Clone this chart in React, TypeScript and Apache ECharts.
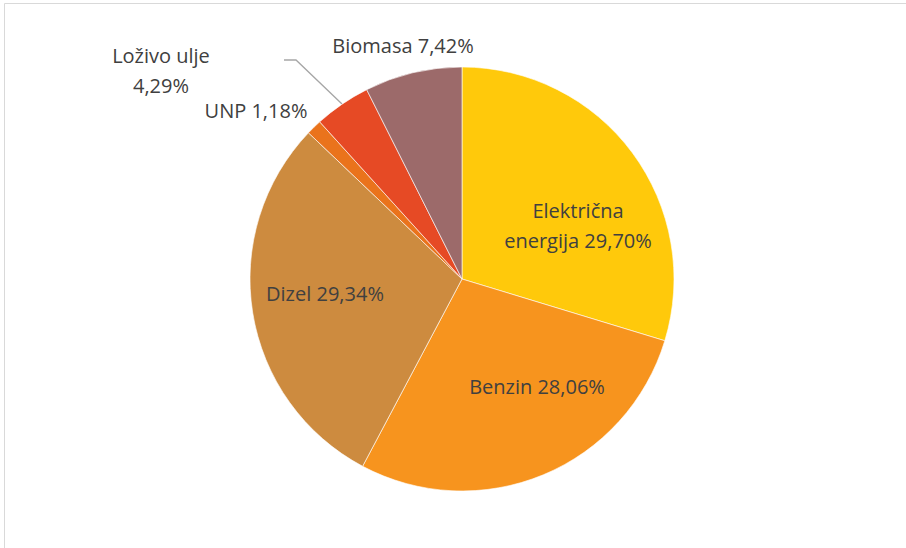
import React, { useEffect, useRef } from "react";
import * as echarts from "echarts";

const categories = ["Električna energija", "Benzin", "Dizel", "UNP", "Loživo ulje", "Biomasa"];
const values = [29.7, 28.06, 29.34, 1.18, 4.29, 7.42];
const valueLabels = ["29,70%", "28,06%", "29,34%", "1,18%", "4,29%", "7,42%"];
const colors = ["#FFC90B", "#F7941E", "#CD8B3F", "#EA731C", "#E64A25", "#9C6A6A"];

// label anchor positions (centre of text block)
const labelPos: [number, number][] = [
  [578, 225],
  [537, 386],
  [325, 293],
  [256, 110],
  [161, 70],
  [403, 45],
];

export default function App() {
  const ref = useRef<HTMLDivElement>(null);
  useEffect(() => {
    document.body.style.margin = "0";
    const chart = echarts.init(ref.current!, null, { renderer: "svg" });
    chart.setOption({
      animation: false,
      backgroundColor: "#ffffff",
      graphic: [
        {
          type: "rect",
          shape: { x: 4.5, y: 3.5, width: 1000, height: 700 },
          style: { fill: "none", stroke: "#D9D9D9", lineWidth: 1 },
          silent: true,
        },
      ],
      series: [
        {
          type: "pie",
          center: [462, 279],
          radius: 212,
          startAngle: 90,
          clockwise: true,
          avoidLabelOverlap: false,
          itemStyle: { borderColor: "#ffffff", borderWidth: 0.6 },
          label: {
            show: true,
            position: "inside",
            color: "#404040",
            fontFamily: "Open Sans",
            fontSize: 20,
            lineHeight: 30,
            align: "center",
            formatter: (p: any) => {
              const i = p.dataIndex;
              if (i === 4) return "Loživo ulje\n" + valueLabels[i];
              if (i === 0) return "Električna\nenergija " + valueLabels[i];
              return categories[i] + " " + valueLabels[i];
            },
          },
          labelLine: { show: false },
          labelLayout: (params: any) => {
            const i = params.dataIndex;
            const [x, y] = labelPos[i];
            const res: any = { x, y, align: "center", verticalAlign: "middle" };
            if (i === 4) {
              res.labelLinePoints = [
                [342, 104],
                [296, 60],
                [284, 60],
              ];
            }
            return res;
          },
          data: values.map((v, i) => ({
            name: categories[i],
            value: v,
            itemStyle: { color: colors[i] },
            label: i >= 3 ? { position: "outside" } : undefined,
            labelLine:
              i === 4
                ? { show: true, lineStyle: { color: "#A6A6A6", width: 1.3 } }
                : { show: false },
          })),
        },
      ],
    });
    return () => chart.dispose();
  }, []);
  return <div ref={ref} style={{ width: 906, height: 548 }} />;
}
